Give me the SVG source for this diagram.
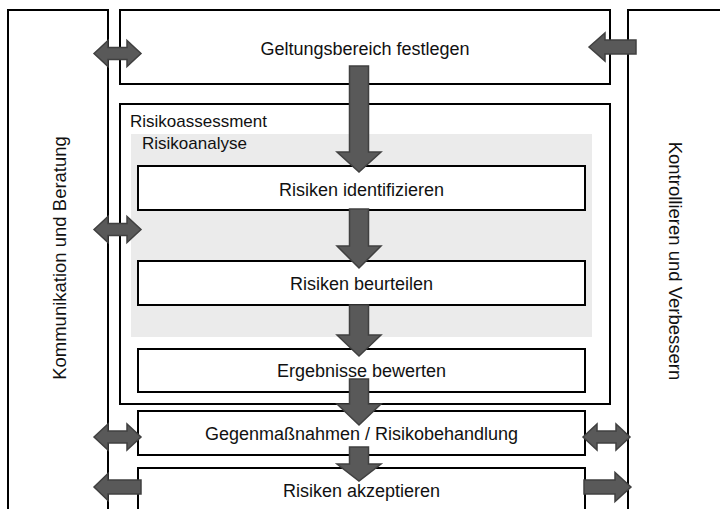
<svg xmlns="http://www.w3.org/2000/svg" width="720" height="509" viewBox="0 0 720 509">
<style>
.box{fill:#fff;stroke:#000;stroke-width:2}
.lbl{font-family:"Liberation Sans",Arial,sans-serif;font-size:18px;fill:#111;text-anchor:middle}
.ttl{font-family:"Liberation Sans",Arial,sans-serif;font-size:17px;fill:#111}
.side{font-family:"Liberation Sans",Arial,sans-serif;font-size:18.5px;fill:#111;text-anchor:middle}
.arr{fill:#595959;stroke:#404040;stroke-width:1.5;stroke-linejoin:miter}
</style>
<rect width="720" height="509" fill="#fff"/>
<g id="kommunikation">
<rect class="box" x="8" y="10" width="100" height="520"/>
<text class="side" transform="translate(66,258) rotate(-90)">Kommunikation und Beratung</text>
</g>
<g id="kontrollieren">
<rect class="box" x="628" y="10" width="120" height="520"/>
<text class="side" transform="translate(669,261) rotate(90)">Kontrollieren und Verbessern</text>
</g>
<g id="geltungsbereich">
<rect class="box" x="120" y="10" width="490" height="74"/>
<text class="lbl" x="365" y="55">Geltungsbereich festlegen</text>
</g>
<g id="risikoassessment">
<rect class="box" x="120" y="104" width="490" height="300"/>
<text class="ttl" x="130" y="127">Risikoassessment</text>
</g>
<g id="risikoanalyse">
<rect x="131" y="134" width="461" height="203" fill="#ebebeb"/>
<text class="ttl" x="142" y="149">Risikoanalyse</text>
</g>
<g id="identifizieren">
<rect class="box" x="138" y="166" width="447" height="44"/>
<text class="lbl" x="361.5" y="196">Risiken identifizieren</text>
</g>
<g id="beurteilen">
<rect class="box" x="138" y="261" width="447" height="44"/>
<text class="lbl" x="361.5" y="290">Risiken beurteilen</text>
</g>
<g id="bewerten">
<rect class="box" x="138" y="349" width="447" height="43"/>
<text class="lbl" x="361.5" y="377">Ergebnisse bewerten</text>
</g>
<g id="gegenmassnahmen">
<rect class="box" x="138" y="411" width="447" height="44"/>
<text class="lbl" x="361.5" y="440">Gegenmaßnahmen / Risikobehandlung</text>
</g>
<g id="akzeptieren">
<rect class="box" x="138" y="468" width="447" height="60"/>
<text class="lbl" x="361.5" y="497">Risiken akzeptieren</text>
</g>
<g id="connectors">
<path class="arr" d="M349.5,66 H368.5 V152 H381 L359,172 L337,152 H349.5 Z"/>
<path class="arr" d="M349.5,209 H368.5 V246 H381 L359,268 L337,246 H349.5 Z"/>
<path class="arr" d="M349.5,305 H368.5 V335 H381 L359,356 L337,335 H349.5 Z"/>
<path class="arr" d="M349.5,379 H368.5 V404 H381 L359,425 L337,404 H349.5 Z"/>
<path class="arr" d="M349.5,447 H368.5 V464 H381 L359,481 L337,464 H349.5 Z"/>
<path class="arr" d="M94,53.5 L108,40.5 V47.5 H127 V40.5 L141,53.5 L127,66.5 V59.5 H108 V66.5 Z"/>
<path class="arr" d="M94,229.5 L108,216.5 V223.5 H127 V216.5 L141,229.5 L127,242.5 V235.5 H108 V242.5 Z"/>
<path class="arr" d="M94,437 L108,424 V431 H127 V424 L141,437 L127,450 V443 H108 V450 Z"/>
<path class="arr" d="M94,487 L108,473.5 V480 H141 V494 H108 V500.5 Z"/>
<path class="arr" d="M583,437 L597,424 V431 H616 V424 L630,437 L616,450 V443 H597 V450 Z"/>
<path class="arr" d="M631,487 L615,472.5 V480 H584 V494 H615 V501.5 Z"/>
<path class="arr" d="M589,47 L605,33 V40 H636 V54 H605 V61 Z"/>
</g>
</svg>
